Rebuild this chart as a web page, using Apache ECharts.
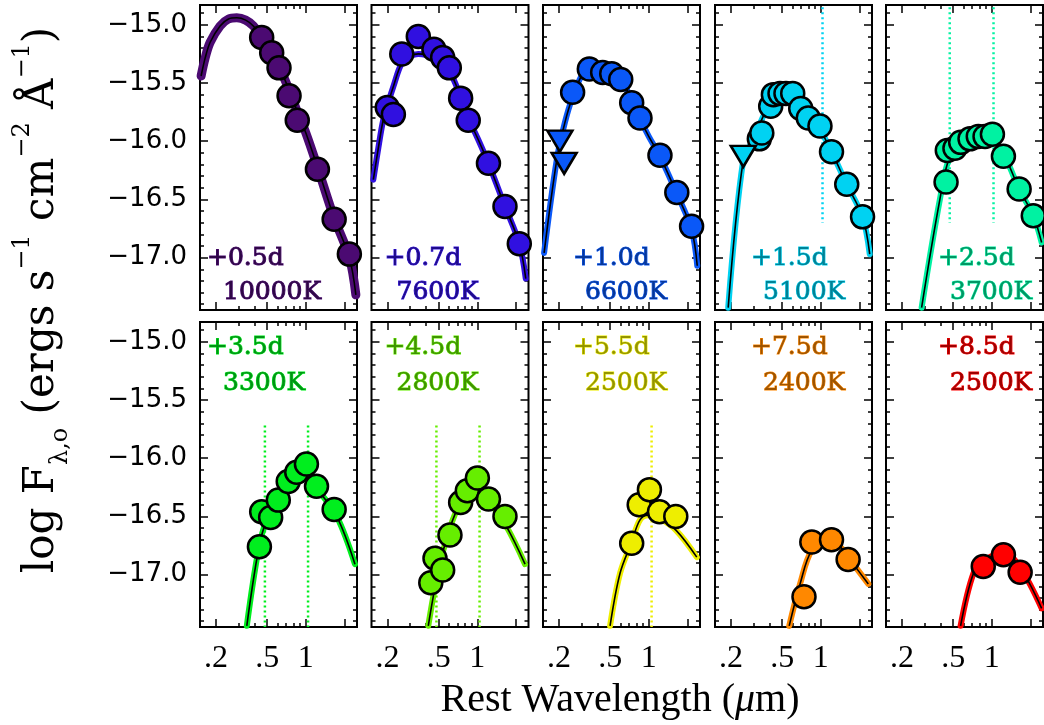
<!DOCTYPE html>
<html><head><meta charset="utf-8">
<script src="https://cdn.jsdelivr.net/npm/echarts@6/dist/echarts.min.js"></script>
<style>html,body{margin:0;padding:0;background:#fff}#c{width:1044px;height:725px}</style>
</head><body><div id="c"></div>
<script>
// ---------- data ----------
const epochs = ['+0.5d','+0.7d','+1.0d','+1.5d','+2.5d','+3.5d','+4.5d','+5.5d','+7.5d','+8.5d'];
const temps  = ['10000K','7600K','6600K','5100K','3700K','3300K','2800K','2500K','2400K','2500K'];
const colors = ['#4b0a72','#3010e0','#0a58f8','#00d2f2','#00f2a2','#00ee1e','#66ee00','#eeee00','#ff8800','#ff0000'];

const xTickLabels = [0.2, 0.5, 1];
const xMajorTicks = [0.2, 0.5, 1, 2];
const xMinorTicks = [0.3, 0.4, 0.6, 0.7, 0.8, 0.9];
const yTickLabels = [-17, -16.5, -16, -15.5, -15];
const yMinorTicks = [-17.4,-17.3,-17.2,-17.1,-16.9,-16.8,-16.7,-16.6,-16.4,-16.3,-16.2,-16.1,-15.9,-15.8,-15.7,-15.6,-15.4,-15.3,-15.2,-15.1,-14.9];

// observed photometry (rest wavelength in micron, log flux)
const obsWave1 = [0.453,0.542,0.618,0.740,0.857,1.23,1.66,2.18];
const obsFlux1 = [-15.11,-15.24,-15.37,-15.61,-15.82,-16.24,-16.67,-16.97];
const obsWave2 = [0.199,0.222,0.258,0.347,0.459,0.537,0.605,0.741,0.849,1.22,1.64,2.12];
const obsFlux2 = [-15.71,-15.77,-15.25,-15.10,-15.21,-15.28,-15.37,-15.63,-15.82,-16.19,-16.56,-16.88];
const obsWave3 = [0.255,0.344,0.437,0.514,0.604,0.735,0.853,1.22,1.65,2.15];
const obsFlux3 = [-15.58,-15.38,-15.41,-15.42,-15.47,-15.67,-15.80,-16.12,-16.44,-16.73];
const obsWave4 = [0.332,0.347,0.407,0.427,0.481,0.535,0.604,0.697,0.798,0.984,1.21,1.59,2.11];
const obsFlux4 = [-15.98,-15.93,-15.70,-15.60,-15.59,-15.59,-15.59,-15.72,-15.80,-15.87,-16.09,-16.37,-16.65];
const obsWave5 = [0.440,0.450,0.516,0.572,0.676,0.784,0.885,1.01,1.23,1.63,2.10];
const obsFlux5 = [-16.35,-16.08,-16.06,-16.01,-15.98,-15.96,-15.96,-15.94,-16.13,-16.41,-16.64];
const obsWave6 = [0.435,0.453,0.532,0.610,0.729,0.849,1.01,1.21,1.66];
const obsFlux6 = [-16.76,-16.46,-16.51,-16.36,-16.20,-16.12,-16.05,-16.24,-16.44];
const obsWave7 = [0.434,0.468,0.537,0.612,0.741,0.835,1.00,1.22,1.64];
const obsFlux7 = [-17.07,-16.86,-16.96,-16.66,-16.38,-16.28,-16.17,-16.35,-16.50];
const obsWave8 = [0.735,0.841,1.01,1.21,1.62];
const obsFlux8 = [-16.73,-16.40,-16.27,-16.46,-16.50];
const obsWave9 = [0.739,0.850,1.21,1.63];
const obsFlux9 = [-17.19,-16.72,-16.70,-16.87];
const obsWave10 = [0.857,1.23,1.66];
const obsFlux10 = [-16.93,-16.83,-16.98];

// upper limits (downward triangles)
const limWave3 = [0.203, 0.219];
const limFlux3 = [-16.00, -16.19];
const limWave4 = [0.249];
const limFlux4 = [-16.13];

// blackbody fits, sampled from the figure
const fitWave1 = [0.153,0.165,0.18,0.215,0.25,0.29,0.34,0.39,0.45,0.54,0.62,0.74,0.86,1.0,1.23,1.66,2.18,2.45];
const fitFlux1 = [-15.44,-15.28,-15.15,-15.01,-14.95,-14.94,-14.96,-15.01,-15.10,-15.23,-15.36,-15.56,-15.75,-15.93,-16.22,-16.66,-17.00,-17.32];
const fitWave2 = [0.155,0.17,0.185,0.205,0.222,0.258,0.30,0.347,0.40,0.483,0.612,0.741,0.849,1.0,1.22,1.64,2.12,2.38];
const fitFlux2 = [-16.33,-16.05,-15.82,-15.65,-15.53,-15.33,-15.27,-15.25,-15.26,-15.30,-15.41,-15.62,-15.80,-15.97,-16.19,-16.56,-16.88,-17.18];
const fitWave3 = [0.153,0.192,0.222,0.255,0.309,0.36,0.417,0.528,0.62,0.735,0.853,1.0,1.22,1.65,2.15,2.38];
const fitFlux3 = [-16.96,-16.16,-15.84,-15.62,-15.41,-15.35,-15.34,-15.39,-15.48,-15.65,-15.81,-15.96,-16.13,-16.45,-16.76,-17.07];
const fitWave4 = [0.19,0.249,0.298,0.379,0.481,0.593,0.776,0.984,1.21,1.59,2.11,2.4];
const fitFlux4 = [-17.43,-16.16,-15.99,-15.73,-15.62,-15.62,-15.76,-15.90,-16.09,-16.37,-16.65,-16.97];
const fitWave5 = [0.284,0.394,0.472,0.60,0.857,1.09,1.30,1.63,2.10,2.44];
const fitFlux5 = [-17.43,-16.50,-16.13,-16.02,-15.96,-16.02,-16.16,-16.41,-16.64,-16.87];
const fitWave6 = [0.347,0.427,0.495,0.629,0.849,1.01,1.21,1.74,2.41];
const fitFlux6 = [-17.44,-16.79,-16.53,-16.32,-16.13,-16.09,-16.25,-16.50,-16.91];
const fitWave7 = [0.415,0.468,0.543,0.67,0.835,1.02,1.22,1.69,2.35];
const fitFlux7 = [-17.44,-17.11,-16.79,-16.48,-16.30,-16.22,-16.36,-16.59,-16.91];
const fitWave8 = [0.499,0.596,0.735,0.853,0.99,1.22,1.63,2.36];
const fitFlux8 = [-17.44,-16.99,-16.72,-16.53,-16.49,-16.52,-16.62,-16.85];
const fitWave9 = [0.567,0.689,0.85,1.11,1.41,1.79,2.34];
const fitFlux9 = [-17.44,-17.08,-16.79,-16.71,-16.76,-16.91,-17.08];
const fitWave10 = [0.571,0.718,0.871,1.23,1.66,2.44];
const fitFlux10 = [-17.44,-16.99,-16.88,-16.81,-16.94,-17.29];

// dotted reference wavelengths and their vertical extent
const markWave = [[],[],[],[1.03],[0.47,1.03],[0.48,1.04],[0.48,1.04],[1.05],[],[]];
const markSpanTop = [-14.85, -16.70];
const markSpanBottom = [-15.72, -17.45];

// ---------- layout ----------
const X_MIN = 0.15, X_MAX = 2.5, Y_MIN = -17.45, Y_MAX = -14.83;
const colLeft = [200, 371.5, 543, 715, 886];
const rowTop = [5, 322];
const PW = 157, PH = 305;
const lab1Off = [7, 13, 30, 36, 52];
const lab2Off = [23, 25, 42, 48, 64];
const labY = [[258, 292], [347, 383]];

const obsWave = [obsWave1,obsWave2,obsWave3,obsWave4,obsWave5,obsWave6,obsWave7,obsWave8,obsWave9,obsWave10];
const obsFlux = [obsFlux1,obsFlux2,obsFlux3,obsFlux4,obsFlux5,obsFlux6,obsFlux7,obsFlux8,obsFlux9,obsFlux10];
const fitWave = [fitWave1,fitWave2,fitWave3,fitWave4,fitWave5,fitWave6,fitWave7,fitWave8,fitWave9,fitWave10];
const fitFlux = [fitFlux1,fitFlux2,fitFlux3,fitFlux4,fitFlux5,fitFlux6,fitFlux7,fitFlux8,fitFlux9,fitFlux10];
const limWave = {2: limWave3, 3: limWave4};
const limFlux = {2: limFlux3, 3: limFlux4};

const zip = (a, b) => a.map((v, k) => [v, b[k]]);
function darken(hex, f) {
  const n = parseInt(hex.slice(1), 16);
  const r = Math.round(((n >> 16) & 255) * f), g = Math.round(((n >> 8) & 255) * f), b = Math.round((n & 255) * f);
  return 'rgb(' + r + ',' + g + ',' + b + ')';
}

const grids = [], xAxes = [], yAxes = [], series = [], graphics = [];
for (let i = 0; i < 10; i++) {
  const r = Math.floor(i / 5), c = i % 5;
  grids.push({left: colLeft[c], top: rowTop[r], width: PW, height: PH, show: true,
    borderColor: '#000', borderWidth: 2, backgroundColor: 'rgba(0,0,0,0)', containLabel: false, outerBoundsMode: 'none'});
  const xb = {type: 'log', logBase: 10, min: X_MIN, max: X_MAX, gridIndex: i,
    axisLine: {show: false, onZero: false}, splitLine: {show: false}};
  const tickStyle = {color: '#000', width: 1.5};
  xAxes.push(Object.assign({}, xb, {position: 'bottom',
    axisTick: {show: true, inside: true, length: 8, lineStyle: tickStyle, customValues: xMajorTicks},
    axisLabel: {show: r === 1, customValues: xTickLabels, margin: 16, color: '#000',
      fontFamily: 'Liberation Serif', fontSize: 32,
      formatter: v => { const t = Math.round(v * 10) / 10; return t >= 1 ? String(t) : String(t).replace(/^0/, ''); }}}));
  xAxes.push(Object.assign({}, xb, {position: 'bottom',
    axisTick: {show: true, inside: true, length: 4, lineStyle: tickStyle, customValues: xMinorTicks},
    axisLabel: {show: false}}));
  xAxes.push(Object.assign({}, xb, {position: 'top',
    axisTick: {show: true, inside: true, length: 8, lineStyle: tickStyle, customValues: xMajorTicks},
    axisLabel: {show: false}}));
  xAxes.push(Object.assign({}, xb, {position: 'top',
    axisTick: {show: true, inside: true, length: 4, lineStyle: tickStyle, customValues: xMinorTicks},
    axisLabel: {show: false}}));

  const yb = {type: 'value', min: Y_MIN, max: Y_MAX, gridIndex: i,
    axisLine: {show: false, onZero: false}, splitLine: {show: false}};
  yAxes.push(Object.assign({}, yb, {position: 'left',
    axisTick: {show: true, inside: true, length: 8, lineStyle: tickStyle, customValues: yTickLabels},
    axisLabel: {show: c === 0, customValues: yTickLabels, margin: 13, color: '#000',
      fontFamily: 'DejaVu Sans', fontSize: 26,
      formatter: v => (v < 0 ? '\u2212' : '') + Math.abs(v).toFixed(1)}}));
  yAxes.push(Object.assign({}, yb, {position: 'left',
    axisTick: {show: true, inside: true, length: 4, lineStyle: tickStyle, customValues: yMinorTicks},
    axisLabel: {show: false}}));
  yAxes.push(Object.assign({}, yb, {position: 'right',
    axisTick: {show: true, inside: true, length: 8, lineStyle: tickStyle, customValues: yTickLabels},
    axisLabel: {show: false}}));
  yAxes.push(Object.assign({}, yb, {position: 'right',
    axisTick: {show: true, inside: true, length: 4, lineStyle: tickStyle, customValues: yMinorTicks},
    axisLabel: {show: false}}));

  const ax = {xAxisIndex: 4 * i, yAxisIndex: 4 * i};
  const col = colors[i];
  const span = r === 0 ? markSpanTop : markSpanBottom;
  markWave[i].forEach(w => {
    series.push(Object.assign({type: 'line', data: [[w, span[0]], [w, span[1]]], symbol: 'none', silent: true, z: 1,
      lineStyle: {color: col, width: 2.5, type: [2, 3]}}, ax));
  });
  const fit = zip(fitWave[i], fitFlux[i]);
  series.push(Object.assign({type: 'line', data: fit, symbol: 'none', smooth: 0.35, silent: true, z: 2,
    lineStyle: {color: col, width: i === 0 ? 9 : 6, cap: 'round'}}, ax));
  series.push(Object.assign({type: 'line', data: fit, symbol: 'none', smooth: 0.35, silent: true, z: 3,
    lineStyle: {color: '#000', width: 1.6}}, ax));
  series.push(Object.assign({type: 'scatter', data: zip(obsWave[i], obsFlux[i]), symbol: 'circle', symbolSize: 23, z: 4,
    itemStyle: {color: col, borderColor: '#000', borderWidth: 2.5, opacity: 1}}, ax));
  if (limWave[i]) {
    series.push(Object.assign({type: 'scatter', data: zip(limWave[i], limFlux[i]), symbol: 'triangle', symbolRotate: 180,
      symbolSize: [25, 21], z: 4, itemStyle: {color: col, borderColor: '#000', borderWidth: 2.5, opacity: 1}}, ax));
  }
  const tcol = darken(col, 0.62);
  graphics.push({type: 'text', x: colLeft[c] + lab1Off[c], y: labY[r][0], z: 10,
    style: {text: epochs[i], fill: tcol, stroke: col, lineWidth: 1, font: '25px "DejaVu Serif"', verticalAlign: 'middle', align: 'left'}});
  graphics.push({type: 'text', x: colLeft[c] + lab2Off[c], y: labY[r][1], z: 10,
    style: {text: temps[i], fill: tcol, stroke: col, lineWidth: 1, font: '25px "DejaVu Serif"', verticalAlign: 'middle', align: 'left'}});
}

graphics.push({type: 'text', x: 42, y: 300, rotation: Math.PI / 2, z: 10,
  style: {text: '{m|log F}{s|\u03bb,o}{m| (ergs s}{p|\u22121}{m| cm}{p|\u22122}{m| \u00c5}{p|\u22121}{m|)}',
    align: 'center', verticalAlign: 'middle', fill: '#000',
    rich: {
      m: {fontFamily: 'DejaVu Serif', fontSize: 42, lineHeight: 62, fill: '#000'},
      s: {fontFamily: 'DejaVu Serif', fontSize: 24, lineHeight: 62, verticalAlign: 'bottom', fill: '#000'},
      p: {fontFamily: 'DejaVu Serif', fontSize: 24, lineHeight: 24, verticalAlign: 'top', fill: '#000'}
    }}});
graphics.push({type: 'text', x: 620, y: 700, z: 10,
  style: {text: 'Rest Wavelength ({i|\u03bc}m)', align: 'center', verticalAlign: 'middle', fill: '#000',
    font: '40px "Liberation Serif"',
    rich: {i: {fontFamily: 'Liberation Serif', fontStyle: 'italic', fontSize: 40, fill: '#000'}}}});

const chart = echarts.init(document.getElementById('c'), null, {renderer: 'canvas'});
chart.setOption({
  animation: false,
  backgroundColor: '#fff',
  grid: grids, xAxis: xAxes, yAxis: yAxes, series: series, graphic: graphics
});
</script>
</body></html>
